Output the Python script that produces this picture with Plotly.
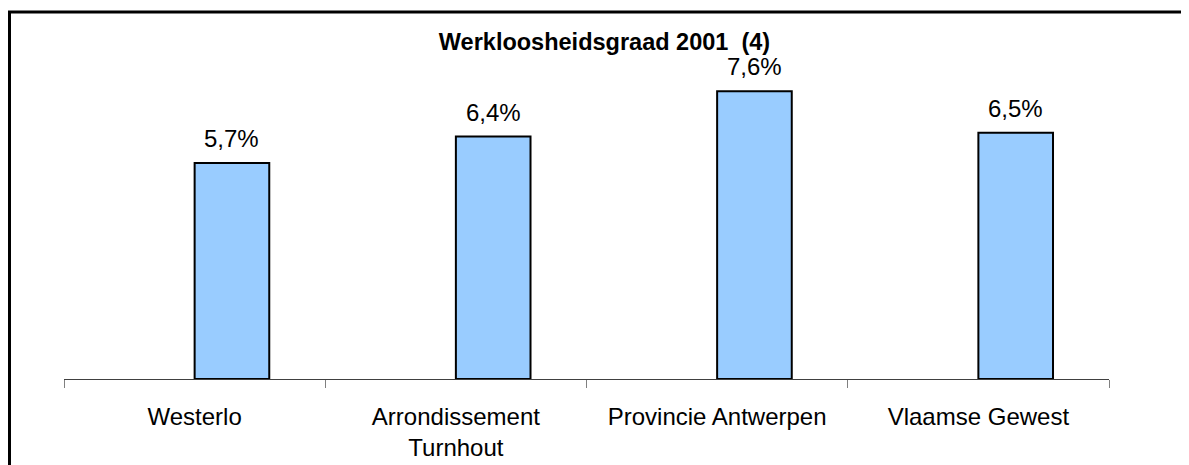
import plotly.graph_objects as go

categories = ["Westerlo", "Arrondissement<br>Turnhout", "Provincie Antwerpen", "Vlaamse Gewest"]
values = [5.7, 6.4, 7.6, 6.5]
title_text = "<b>Werkloosheidsgraad 2001  (4)</b>"

W, H = 1189, 465
OFF = 8  # page body margin offset
ml, mt = 64 - OFF, 76 - OFF
mr = W - (1109 - OFF)
mb = H - (381 - OFF)
pw, ph = W - ml - mr, H - mt - mb

bar_w = 0.2857  # fraction of category (Excel: 2 series, gap 150%)
FONT = "Liberation Sans, Arial, sans-serif"

fig = go.Figure()
fig.add_trace(go.Bar(
    x=list(range(len(categories))),
    y=values,
    width=bar_w,
    offset=0,
    marker=dict(color="#99CCFF", line=dict(color="black", width=2)),
    hoverinfo="skip",
))

for i, v in enumerate(values):
    fig.add_annotation(
        x=i + bar_w / 2, y=v, xref="x", yref="y",
        text=f"{v:.1f}".replace(".", ",") + "%",
        showarrow=False, yanchor="bottom", yshift=9,
        font=dict(family=FONT, size=24, color="black"),
    )

def px_to_paper_x(px):
    return (px - OFF - ml) / pw

def px_to_paper_y(py):
    return (H - mb - (py - OFF)) / ph

fig.add_shape(
    type="rect", xref="paper", yref="paper",
    x0=px_to_paper_x(9.5), x1=px_to_paper_x(W + 20),
    y0=px_to_paper_y(H + 20), y1=px_to_paper_y(11.5),
    line=dict(color="black", width=3), fillcolor="rgba(0,0,0,0)", layer="below",
)

fig.update_layout(
    width=W, height=H,
    margin=dict(l=ml, r=mr, t=mt, b=mb),
    paper_bgcolor="white", plot_bgcolor="white",
    showlegend=False,
    font=dict(family=FONT, size=24, color="black"),
    title=dict(text=title_text, x=(604.5 - OFF) / W, xanchor="center",
               y=1 - (42 - OFF) / H, yanchor="middle", yref="container",
               font=dict(family=FONT, size=23.5, color="black")),
    xaxis=dict(
        range=[-0.5, len(categories) - 0.5],
        tickmode="array",
        tickvals=list(range(len(categories))),
        ticktext=categories,
        showline=True, linecolor="#404040", linewidth=1,
        ticks="", showgrid=False, zeroline=False,
        ticklabelstandoff=16,
        tickfont=dict(family=FONT, size=24, color="black"),
    ),
    xaxis2=dict(
        overlaying="x", side="bottom", matches="x",
        tickmode="array",
        tickvals=[i - 0.5 for i in range(len(categories) + 1)],
        ticktext=["" for _ in range(len(categories) + 1)],
        ticks="outside", ticklen=8, tickcolor="#808080", tickwidth=1,
        showline=False, showgrid=False, zeroline=False, showticklabels=False,
    ),
    yaxis=dict(range=[0, 8], visible=False, showgrid=False, zeroline=False),
)
# invisible trace to activate xaxis2
fig.add_trace(go.Scatter(x=[0], y=[0], xaxis="x2", mode="markers",
                         marker=dict(opacity=0), hoverinfo="skip", showlegend=False))

fig.write_html("out.html")
